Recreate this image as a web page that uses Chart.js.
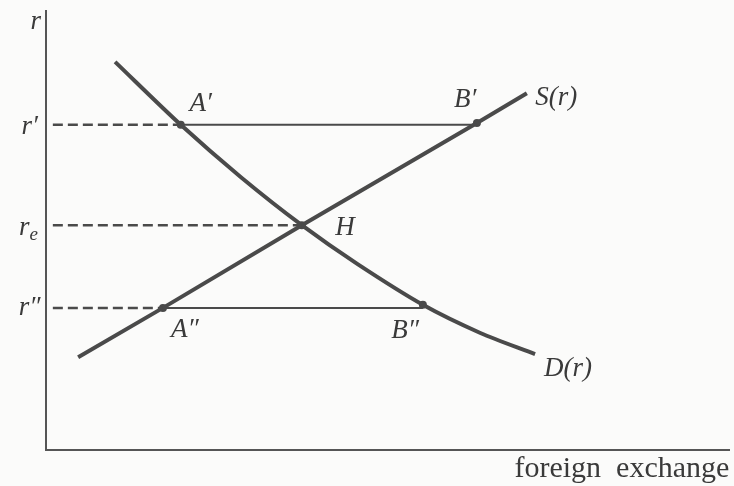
<!DOCTYPE html>
<html>
<head>
<meta charset="utf-8">
<script src="https://cdn.jsdelivr.net/npm/chart.js@4/dist/chart.umd.min.js"></script>
<style>
html,body{margin:0;padding:0;background:#fbfbfa;}
canvas{display:block;}
</style>
</head>
<body>
<canvas id="c" width="734" height="486"></canvas>
<script>
// Demand curve D(r)
const demandX = [10.1, 19.7, 28.5, 37.4, 45.5, 55.1, 63.5, 71.5];
const demandY = [88.2, 73.9, 62.0, 51.1, 42.3, 33.0, 26.6, 21.8];
// Supply curve S(r)
const supplyX = [4.7, 17.1, 37.4, 63.0, 70.3];
const supplyY = [21.1, 32.3, 51.1, 74.3, 81.1];
// Interest rate levels: r', r_e, r''
const levelY = [73.9, 51.1, 32.3];
const levelStartX = [19.7, 37.4, 17.1];   // where dashed segment ends (A', H, A'')
const levelEndX = [63.0, 37.4, 55.1];     // where solid segment ends (B', H, B'')
// Marked points A', B', H, A'', B''
const markX = [19.7, 63.0, 37.4, 17.1, 55.1];
const markY = [73.9, 74.3, 51.1, 32.3, 33.0];
// Text labels
const labelText = ["r", "r′", "r_e", "r″", "A′", "B′", "S(r)", "H", "A″", "B″", "D(r)", "foreign  exchange"];
const labelX = [-1.5, -2.4, -2.4, -2.4, 22.6, 61.3, 74.6, 43.7, 20.3, 52.5, 76.3, 84.2];
const labelY = [97.3, 73.4, 50.5, 32.3, 78.6, 79.5, 80.0, 50.5, 27.3, 27.0, 18.4, -4.3];

const ink = '#4a4a4a';
const datasets = [];
// axes
datasets.push({data:[{x:0,y:100},{x:0,y:0},{x:100,y:0}], showLine:true, borderColor:'#555', borderWidth:2, pointRadius:0, tension:0});
// dashed guides and solid connectors
for (let i=0;i<levelY.length;i++){
  datasets.push({data:[{x:1,y:levelY[i]},{x:levelStartX[i],y:levelY[i]}], showLine:true, borderColor:ink, borderWidth:2.5, borderDash:[10,5], pointRadius:0});
  if (levelEndX[i] > levelStartX[i]) {
    datasets.push({data:[{x:levelStartX[i],y:levelY[i]},{x:levelEndX[i],y:levelY[i]}], showLine:true, borderColor:ink, borderWidth:2, pointRadius:0});
  }
}
datasets.push({data:demandX.map((x,i)=>({x, y:demandY[i]})), showLine:true, borderColor:ink, borderWidth:4, pointRadius:0, tension:0.3});
datasets.push({data:supplyX.map((x,i)=>({x, y:supplyY[i]})), showLine:true, borderColor:ink, borderWidth:4, pointRadius:0, tension:0});
datasets.push({data:markX.map((x,i)=>({x, y:markY[i]})), showLine:false, pointRadius:4, pointBackgroundColor:ink, pointBorderWidth:0});

const labelPlugin = {
  id:'labels',
  afterDraw(chart){
    const ctx = chart.ctx, xs = chart.scales.x, ys = chart.scales.y;
    ctx.save();
    ctx.fillStyle = '#3a3a3a';
    ctx.textAlign = 'center';
    ctx.textBaseline = 'middle';
    for (let i=0;i<labelText.length;i++){
      const px = xs.getPixelForValue(labelX[i]);
      const py = ys.getPixelForValue(labelY[i]);
      const t = labelText[i];
      if (t === 'foreign  exchange') {
        ctx.font = '30px "Liberation Serif"';
        ctx.fillText(t, px, py);
      } else if (t === 'r_e') {
        ctx.font = 'italic 27px "Liberation Serif"';
        ctx.textAlign = 'right';
        ctx.fillText('r', px, py);
        ctx.font = 'italic 19px "Liberation Serif"';
        ctx.textAlign = 'left';
        ctx.fillText('e', px, py + 7);
        ctx.textAlign = 'center';
      } else {
        ctx.font = 'italic 27px "Liberation Serif"';
        ctx.fillText(t, px, py);
      }
    }
    ctx.restore();
  }
};

new Chart(document.getElementById('c'), {
  type:'scatter',
  data:{datasets},
  options:{
    responsive:false,
    animation:false,
    devicePixelRatio:1,
    layout:{padding:{left:46, top:10, right:4, bottom:36}},
    plugins:{legend:{display:false}, tooltip:{enabled:false}},
    scales:{
      x:{type:'linear', min:0, max:100, display:false},
      y:{type:'linear', min:0, max:100, display:false}
    },
    elements:{line:{borderCapStyle:'butt'}},
    clip:false
  },
  plugins:[labelPlugin]
});
</script>
</body>
</html>
